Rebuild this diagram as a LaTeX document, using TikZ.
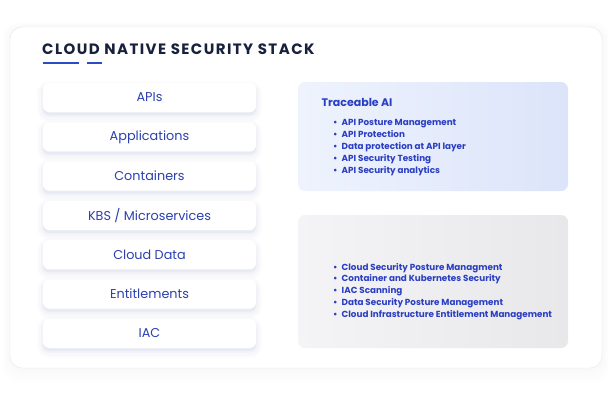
\documentclass[tikz,border=0pt]{standalone}
\usepackage{fontspec}
\setmainfont{Poppins}
\newfontfamily\titlefont[LetterSpace=9.5]{Poppins}
\definecolor{navy}{HTML}{18213C}
\definecolor{boxblue}{HTML}{2C40B0}
\definecolor{bulblue}{HTML}{2A3EC2}
\definecolor{linecol}{HTML}{2B4CC4}
\definecolor{cardline}{HTML}{E3E8F4}
\definecolor{shadowcol}{HTML}{8C96CC}
\definecolor{p1l}{HTML}{EEF3FD}
\definecolor{p1r}{HTML}{DCE4FA}
\definecolor{p2l}{HTML}{F4F4F6}
\definecolor{p2r}{HTML}{E8E8EB}
\tikzset{
  softshadow/.style={
    preaction={draw=shadowcol, line width=12pt, opacity=0.025, transform canvas={yshift=-4pt}},
    preaction={draw=shadowcol, line width=8pt, opacity=0.035, transform canvas={yshift=-4pt}},
    preaction={draw=shadowcol, line width=4pt, opacity=0.05, transform canvas={yshift=-3pt}},
    preaction={fill=shadowcol, opacity=0.1, transform canvas={yshift=-3pt}}},
  stackbox/.style={rectangle, rounded corners=6pt, fill=white, minimum width=213pt, minimum height=29pt,
    text=boxblue, font=\fontsize{12.8}{14}\selectfont, softshadow},
  panel/.style={rectangle, rounded corners=7pt, minimum width=270pt},
  bullets/.style={align=left, text=bulblue, font=\bfseries\fontsize{8.8}{11.8}\selectfont, anchor=north west, inner sep=0pt},
}
\newcommand{\bl}{\makebox[8.5pt][l]{\textbullet}}
\begin{document}
\begin{tikzpicture}[x=1pt,y=-1pt]
\useasboundingbox (0,0) rectangle (610,400);
\fill[white] (0,0) rectangle (610,400);
% card glow
\foreach \i in {1,...,6}{
  \fill[shadowcol, opacity=0.008, rounded corners=14pt] (10-\i*1.2,27-\i*0.8) rectangle (602+\i*1.2,368+\i*2.5);
}
\node[draw=cardline, fill=white, rounded corners=12pt, minimum width=592pt, minimum height=341pt, inner sep=0pt] (card) at (306,197.5) {};
% title
\node[anchor=west, inner sep=0pt, text=navy, font=\titlefont\bfseries\fontsize{15}{17}\selectfont] (title) at (42,49) {CLOUD NATIVE SECURITY STACK};
\coordinate (u1a) at (43,63); \coordinate (u1b) at (79,63);
\coordinate (u2a) at (87,63); \coordinate (u2b) at (102,63);
\draw[linecol, line width=2pt] (u1a) -- (u1b);
\draw[linecol, line width=2pt] (u2a) -- (u2b);
% left stack
\node[stackbox] (b1) at (149.5,97.5) {APIs};
\node[stackbox] (b2) at (149.5,136.8) {Applications};
\node[stackbox] (b3) at (149.5,176.1) {Containers};
\node[stackbox] (b4) at (149.5,215.4) {KBS / Microservices};
\node[stackbox] (b5) at (149.5,254.7) {Cloud Data};
\node[stackbox] (b6) at (149.5,294) {Entitlements};
\node[stackbox] (b7) at (149.5,333.3) {IAC};
% right panels
\node[panel, minimum height=109pt, left color=p1l, right color=p1r] (p1) at (433,136.5) {};
\node[panel, minimum height=133pt, left color=p2l, right color=p2r] (p2) at (433,281.5) {};
\node[anchor=west, inner sep=0pt, text=bulblue, font=\bfseries\fontsize{11}{13}\selectfont] (p1title) at (321.5,102) {Traceable AI};
\node[bullets] (p1list) at (333,119.5) {\bl API Posture Management\\ \bl API Protection\\ \bl Data protection at API layer\\ \bl API Security Testing\\ \bl API Security analytics};
\node[bullets] (p2list) at (333,262.8) {\bl Cloud Security Posture Managment\\ \bl Container and Kubernetes Security\\ \bl IAC Scanning\\ \bl Data Security Posture Management\\ \bl Cloud Infrastructure Entitlement Management};
\end{tikzpicture}
\end{document}
